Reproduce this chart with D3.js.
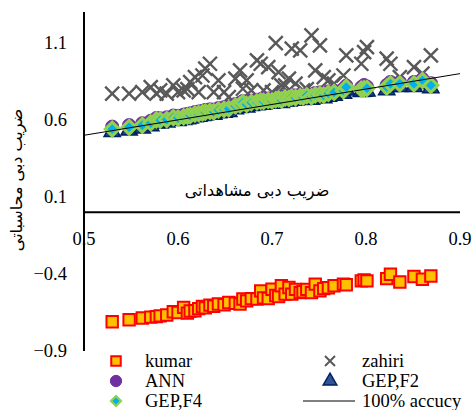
<!DOCTYPE html>
<html>
<head>
<meta charset="utf-8">
<script src="https://cdn.jsdelivr.net/npm/d3@7"></script>
<style>
  html, body { margin: 0; padding: 0; background: #fff; }
  svg { display: block; }
  .serif { font-family: "Liberation Serif", "Times New Roman", Times, serif; }
  .arabic { font-family: "DejaVu Sans", sans-serif; }
</style>
</head>
<body>
<svg id="chart" width="472" height="410"></svg>
<script>
// Observed discharge coefficient (x) shared by every model
const observed = [0.530, 0.548, 0.562, 0.571, 0.577, 0.581, 0.588, 0.595, 0.600, 0.606,
  0.610, 0.613, 0.618, 0.622, 0.626, 0.629, 0.634, 0.638, 0.643, 0.649,
  0.654, 0.661, 0.666, 0.669, 0.673, 0.678, 0.684, 0.688, 0.691, 0.696,
  0.700, 0.704, 0.707, 0.710, 0.714, 0.718, 0.721, 0.725, 0.730, 0.733,
  0.737, 0.742, 0.746, 0.751, 0.755, 0.760, 0.766, 0.776, 0.779, 0.795,
  0.798, 0.801, 0.822, 0.826, 0.836, 0.851, 0.860, 0.869];

// Computed discharge coefficient for each model
const kumar = [-0.710, -0.697, -0.686, -0.680, -0.677, -0.672, -0.666, -0.645, -0.650, -0.617,
  -0.654, -0.640, -0.639, -0.625, -0.611, -0.620, -0.602, -0.610, -0.595, -0.600,
  -0.585, -0.590, -0.595, -0.563, -0.575, -0.560, -0.563, -0.510, -0.555, -0.559,
  -0.499, -0.540, -0.546, -0.477, -0.531, -0.488, -0.531, -0.500, -0.521, -0.515,
  -0.500, -0.521, -0.466, -0.510, -0.495, -0.490, -0.477, -0.466, -0.470, -0.445,
  -0.439, -0.445, -0.430, -0.402, -0.452, -0.417, -0.434, -0.413];

const zahiri = [0.770, 0.770, 0.780, 0.813, 0.770, 0.791, 0.770, 0.824, 0.780, 0.791,
  0.800, 0.845, 0.877, 0.780, 0.888, 0.932, 0.964, 0.780, 0.856, 0.780,
  0.748, 0.867, 0.921, 0.802, 0.856, 0.791, 0.986, 0.964, 0.791, 0.942,
  0.780, 1.098, 0.910, 0.824, 0.824, 0.867, 1.062, 0.835, 1.051, 0.791,
  0.800, 1.148, 0.921, 1.083, 0.877, 0.856, 0.835, 0.888, 1.018, 0.964,
  1.040, 1.072, 0.997, 0.964, 0.877, 0.942, 0.900, 1.018];

const ann = [0.556, 0.566, 0.578, 0.594, 0.612, 0.610, 0.616, 0.628, 0.626, 0.634,
  0.638, 0.642, 0.650, 0.654, 0.658, 0.664, 0.668, 0.666, 0.676, 0.682,
  0.686, 0.702, 0.710, 0.722, 0.714, 0.724, 0.730, 0.734, 0.734, 0.738,
  0.738, 0.744, 0.748, 0.742, 0.754, 0.752, 0.760, 0.758, 0.764, 0.762,
  0.770, 0.764, 0.774, 0.778, 0.774, 0.784, 0.790, 0.802, 0.822, 0.812,
  0.826, 0.816, 0.826, 0.846, 0.846, 0.846, 0.866, 0.838];

const gepF4 = [0.540, 0.552, 0.565, 0.580, 0.600, 0.598, 0.602, 0.615, 0.612, 0.620,
  0.625, 0.628, 0.638, 0.640, 0.646, 0.650, 0.655, 0.652, 0.664, 0.668,
  0.672, 0.690, 0.698, 0.712, 0.700, 0.712, 0.716, 0.722, 0.720, 0.726,
  0.724, 0.732, 0.736, 0.728, 0.742, 0.740, 0.748, 0.744, 0.752, 0.748,
  0.758, 0.750, 0.762, 0.765, 0.760, 0.772, 0.778, 0.790, 0.812, 0.800,
  0.802, 0.805, 0.813, 0.834, 0.834, 0.834, 0.856, 0.824];

const gepF2 = [0.522, 0.532, 0.546, 0.560, 0.580, 0.578, 0.584, 0.596, 0.594, 0.600,
  0.606, 0.610, 0.618, 0.622, 0.626, 0.630, 0.636, 0.634, 0.644, 0.648,
  0.652, 0.670, 0.678, 0.692, 0.682, 0.692, 0.696, 0.702, 0.700, 0.706,
  0.706, 0.712, 0.716, 0.710, 0.722, 0.720, 0.728, 0.726, 0.732, 0.730,
  0.738, 0.732, 0.742, 0.746, 0.742, 0.752, 0.758, 0.770, 0.792, 0.782,
  0.784, 0.786, 0.794, 0.814, 0.814, 0.814, 0.834, 0.806];

// Axis ticks
const xTicks = [0.5, 0.6, 0.7, 0.8, 0.9];
const yTicks = [-0.9, -0.4, 0.1, 0.6, 1.1];
const xDomain = [0.5, 0.9];
const yDomain = [-0.9, 1.3];
const accuracyLine = [0.5, 0.9];

const xTitle = "ضریب دبی مشاهداتی";
const yTitle = "ضریب دبی محاسباتی";

const svg = d3.select("#chart");
const x = d3.scaleLinear().domain(xDomain).range([84, 460]);
const y = d3.scaleLinear().domain(yDomain).range([351, 12]);

// Axis lines: y at x = 0.5, x at y = 0
svg.append("line")
  .attr("x1", x(0.5)).attr("x2", x(0.5))
  .attr("y1", y(yDomain[1])).attr("y2", y(yDomain[0]))
  .attr("stroke", "#000").attr("stroke-width", 2);
svg.append("line")
  .attr("x1", x(xDomain[0])).attr("x2", x(xDomain[1]))
  .attr("y1", y(0)).attr("y2", y(0))
  .attr("stroke", "#000").attr("stroke-width", 2);

// Tick labels
svg.append("g").selectAll("text").data(yTicks).join("text")
  .attr("class", "serif")
  .attr("x", 67).attr("y", d => y(d))
  .attr("dy", "0.35em")
  .attr("text-anchor", "end")
  .style("font-size", "18.5px").attr("fill", "#000")
  .text(d => d3.format(".1f")(d));

svg.append("g").selectAll("text").data(xTicks).join("text")
  .attr("class", "serif")
  .attr("x", d => x(d)).attr("y", y(0) + 26)
  .attr("dy", "0.35em")
  .attr("text-anchor", "middle")
  .style("font-size", "18.5px").attr("fill", "#000")
  .text(d => d3.format(".1f")(d));

// Axis titles
svg.append("text")
  .attr("class", "arabic")
  .attr("x", 257).attr("y", 190)
  .attr("dy", "0.35em")
  .attr("text-anchor", "middle")
  .style("font-size", "16px")
  .attr("direction", "rtl")
  .text(xTitle);

svg.append("text")
  .attr("class", "arabic")
  .attr("transform", "translate(16,180) rotate(-90)")
  .attr("dy", "0.35em")
  .attr("text-anchor", "middle")
  .style("font-size", "16px")
  .attr("direction", "rtl")
  .text(yTitle);

// Marker shapes
const sym = (type, size) => d3.symbol().type(type).size(size)();
const squarePath = sym(d3.symbolSquare, 130);
const circlePath = sym(d3.symbolCircle, 135);
const diamondPath = "M0,-7L7,0L0,7L-7,0Z";
const trianglePath = sym(d3.symbolTriangle, 115);
const crossPath = "M-7,-7L7,7M-7,7L7,-7";

function drawSeries(values, path, style) {
  const g = svg.append("g");
  g.selectAll("path").data(observed.map((o, i) => [o, values[i]])).join("path")
    .attr("transform", d => `translate(${x(d[0])},${y(d[1])})`)
    .attr("d", path)
    .attr("fill", style.fill)
    .attr("stroke", style.stroke)
    .attr("stroke-width", style.width);
}

const styles = {
  kumar: { fill: "#FFC000", stroke: "#FF0000", width: 2 },
  zahiri: { fill: "none", stroke: "#595959", width: 2.4 },
  ann: { fill: "#7030A0", stroke: "#7030A0", width: 1 },
  gepF2: { fill: "#1F3D8A", stroke: "#002060", width: 1.5 },
  gepF4: { fill: "#00B0F0", stroke: "#92D050", width: 3 }
};

drawSeries(kumar, squarePath, styles.kumar);
drawSeries(zahiri, crossPath, styles.zahiri);
drawSeries(ann, circlePath, styles.ann);
drawSeries(gepF2, trianglePath, styles.gepF2);
drawSeries(gepF4, diamondPath, styles.gepF4);

// 100% accuracy line (y = x)
svg.append("line")
  .attr("x1", x(accuracyLine[0])).attr("y1", y(accuracyLine[0]))
  .attr("x2", x(accuracyLine[1])).attr("y2", y(accuracyLine[1]))
  .attr("stroke", "#000").attr("stroke-width", 1);

// Legend
const legendItems = [
  { name: "kumar", col: 0, row: 0, path: sym(d3.symbolSquare, 90), style: styles.kumar },
  { name: "ANN", col: 0, row: 1, path: sym(d3.symbolCircle, 100), style: styles.ann },
  { name: "GEP,F4", col: 0, row: 2, path: "M0,-5L5,0L0,5L-5,0Z", style: { fill: "#00B0F0", stroke: "#92D050", width: 2.2 } },
  { name: "zahiri", col: 1, row: 0, path: "M-5,-5L5,5M-5,5L5,-5", style: { fill: "none", stroke: "#595959", width: 2 } },
  { name: "GEP,F2", col: 1, row: 1, path: sym(d3.symbolTriangle, 80), style: { fill: "#2F5597", stroke: "#002060", width: 1.5 } },
  { name: "100% accucy", col: 1, row: 2, line: true }
];
const colMarkerX = [116, 330];
const colTextX = [145, 362];
const rowY = [361, 381, 401];

const lg = svg.append("g");
legendItems.forEach(item => {
  const cy = rowY[item.row];
  if (item.line) {
    lg.append("line")
      .attr("x1", 303).attr("x2", 355).attr("y1", cy).attr("y2", cy)
      .attr("stroke", "#000").attr("stroke-width", 1);
  } else {
    lg.append("path")
      .attr("transform", `translate(${colMarkerX[item.col]},${cy})`)
      .attr("d", item.path)
      .attr("fill", item.style.fill)
      .attr("stroke", item.style.stroke)
      .attr("stroke-width", item.style.width);
  }
  lg.append("text")
    .attr("class", "serif")
    .attr("x", colTextX[item.col]).attr("y", cy)
    .attr("dy", "0.35em")
    .style("font-size", "18.5px").attr("fill", "#000")
    .text(item.name);
});
</script>
</body>
</html>
